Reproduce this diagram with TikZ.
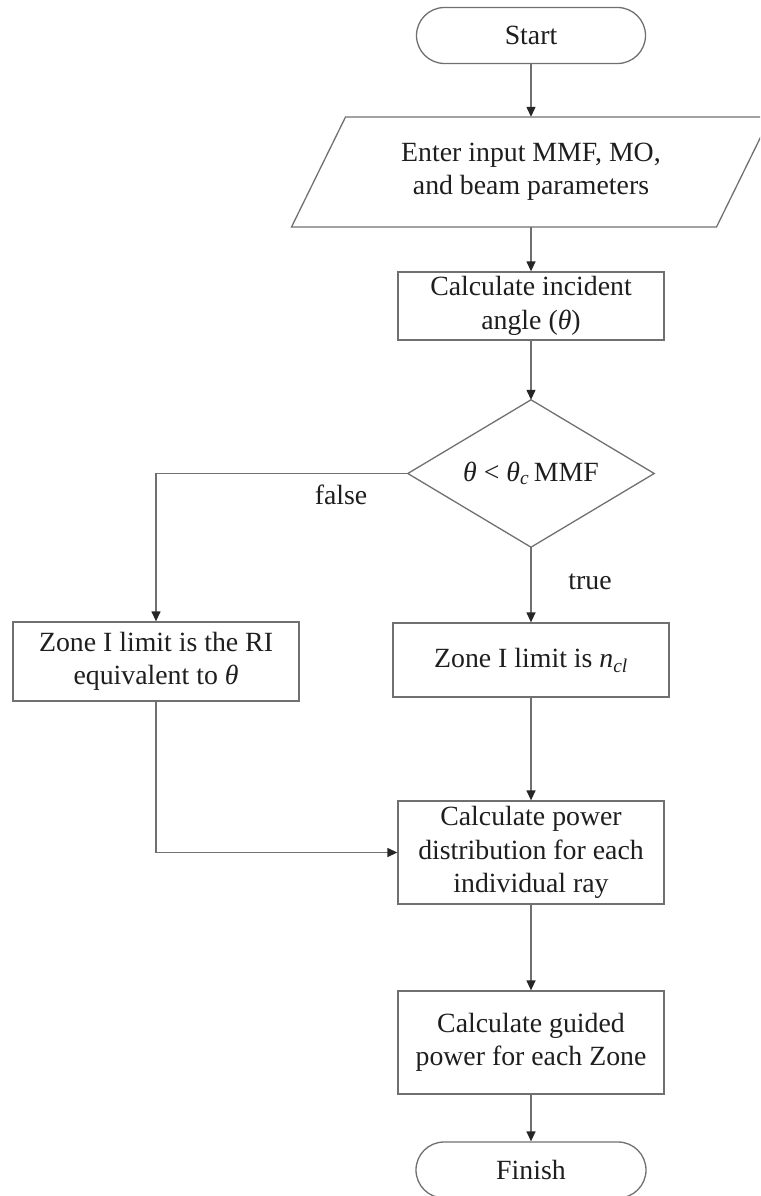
\documentclass[tikz,border=0pt]{standalone}
\usepackage{fontspec}
\setmainfont{Liberation Serif}
\usetikzlibrary{shapes.geometric,arrows.meta}
\definecolor{linegray}{HTML}{707070}
\definecolor{txtcol}{HTML}{1E1E1E}
\begin{document}
\begin{tikzpicture}[x=1pt,y=-1pt,
  txt/.style={font=\fontsize{27.8}{33.5}\selectfont, text=txtcol, align=center, inner sep=0pt},
  box/.style={txt, draw=linegray, line width=1.3pt, rectangle},
  term/.style={box, rounded corners=28pt},
  shapeline/.style={draw=linegray, line width=1.3pt},
  arr/.style={draw=linegray, line width=1.3pt, -{Triangle[length=10pt,width=9pt,color=black!85]}}
]
\useasboundingbox (0,0) rectangle (760,1196);
\clip (0,0) rectangle (760,1196);

\node[term, minimum width=229pt, minimum height=56pt] (start) at (531,35.5) {Start};

\node[txt, minimum width=425pt, minimum height=110pt] (input) at (531,172) {Enter input MMF, MO,\\and beam parameters};
\draw[shapeline] (291.5,227) -- (716.5,227) -- (770.5,117) -- (345.5,117) -- cycle;

\node[box, minimum width=266pt, minimum height=68pt] (inc) at (531,306) {Calculate incident\\angle ({\itshape θ})};

\node[txt, minimum width=246pt, minimum height=147pt] (dec) at (531,473.5) {{\itshape θ} < {\itshape θ}\textsubscript{\itshape c}\,MMF};
\draw[shapeline] (dec.north) -- (dec.east) -- (dec.south) -- (dec.west) -- cycle;

\node[box, minimum width=286pt, minimum height=79pt] (left) at (156,661.5) {Zone I limit is the RI\\equivalent to {\itshape θ}};

\node[box, minimum width=276pt, minimum height=74pt] (right) at (531,660) {Zone I limit is {\itshape n}\textsubscript{\itshape cl}};

\node[box, minimum width=266pt, minimum height=103pt] (power) at (531,852.5) {Calculate power\\distribution for each\\individual ray};

\node[box, minimum width=266pt, minimum height=103pt] (guided) at (531,1042.5) {Calculate guided\\power for each Zone};

\node[term, minimum width=230pt, minimum height=56pt] (finish) at (531,1170) {Finish};

\node[txt] (flab) at (341,495) {false};
\node[txt] (tlab) at (590,582) {true};

\draw[arr] (start.south) -- (input.north);
\draw[arr] (input.south) -- (inc.north);
\draw[arr] (inc.south) -- (dec.north);
\draw[arr] (dec.west) -| (left.north);
\draw[arr] (dec.south) -- (right.north);
\draw[arr] (right.south) -- (power.north);
\draw[arr] (left.south) |- (power.west);
\draw[arr] (power.south) -- (guided.north);
\draw[arr] (guided.south) -- (finish.north);
\end{tikzpicture}
\end{document}
